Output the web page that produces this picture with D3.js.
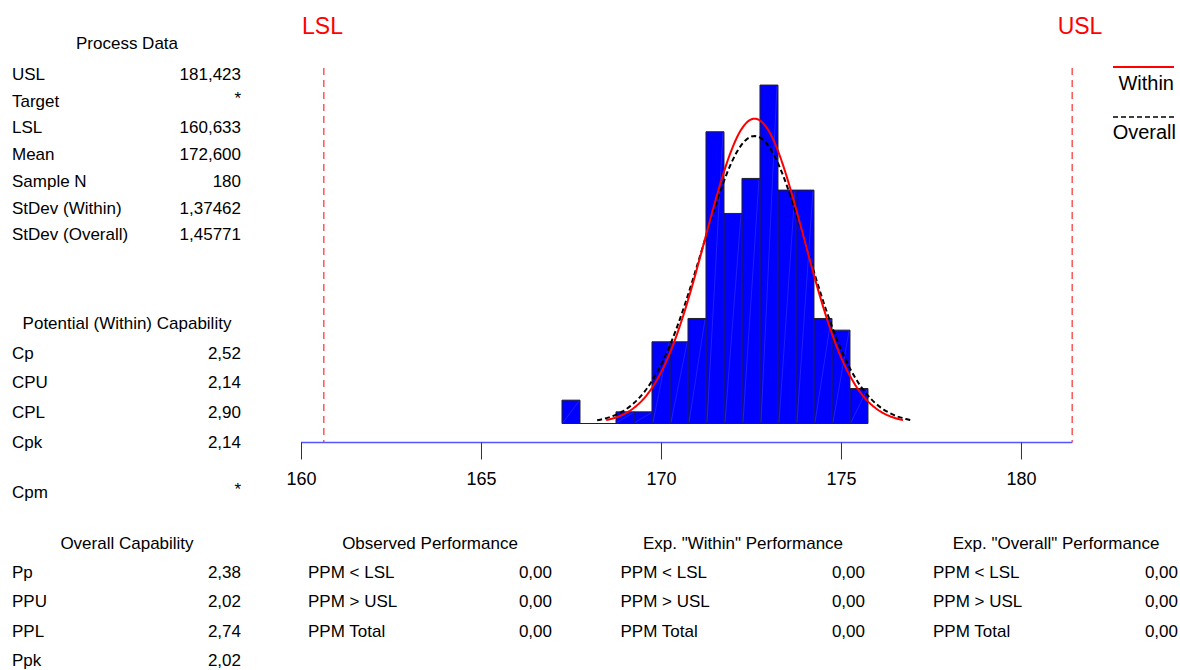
<!DOCTYPE html>
<html>
<head>
<meta charset="utf-8">
<script src="https://cdn.jsdelivr.net/npm/d3@7"></script>
<style>
  body { margin: 0; background: #fff; }
  svg { font-family: "Liberation Sans", Arial, sans-serif; }
</style>
</head>
<body>
<div id="chart"></div>
<script>
// Histogram data (bin midpoints, bin width 0.5)
const binMids = [167.5, 168.0, 168.5, 169.0, 169.5, 170.0, 170.5, 171.0, 171.5,
                 172.0, 172.5, 173.0, 173.5, 174.0, 174.5, 175.0, 175.5];
const binCounts = [2, 0, 0, 1, 1, 7, 7, 9, 25, 18, 21, 29, 20, 20, 9, 8, 3];
const binWidth = 0.5;

// Process statistics
const usl = 181.423;
const lsl = 160.633;
const mean = 172.6;
const sampleN = 180;
const sdWithin = 1.37462;
const sdOverall = 1.45771;

const xTicks = [160, 165, 170, 175, 180];

// Text tables
const processLabels = ["USL", "Target", "LSL", "Mean", "Sample N", "StDev (Within)", "StDev (Overall)"];
const processValues = ["181,423", "*", "160,633", "172,600", "180", "1,37462", "1,45771"];
const potentialLabels = ["Cp", "CPU", "CPL", "Cpk", "Cpm"];
const potentialValues = ["2,52", "2,14", "2,90", "2,14", "*"];
const overallLabels = ["Pp", "PPU", "PPL", "Ppk"];
const overallValues = ["2,38", "2,02", "2,74", "2,02"];
const perfLabels = ["PPM < LSL", "PPM > USL", "PPM Total"];
const perfTitles = ["Observed Performance", "Exp. \"Within\" Performance", "Exp. \"Overall\" Performance"];
const observedValues = ["0,00", "0,00", "0,00"];
const withinValues = ["0,00", "0,00", "0,00"];
const overallPerfValues = ["0,00", "0,00", "0,00"];

const W = 1180, H = 670;
const svg = d3.select("#chart").append("svg")
    .attr("width", W)
    .attr("height", H);

const x = d3.scaleLinear().domain([160, usl]).range([301, 1072.2]);
const y = d3.scaleLinear().domain([0, 30]).range([423.5, 73.4]);
const axisY = 442.5;

// spec limit lines
[lsl, usl].forEach(v => {
    svg.append("line")
        .attr("x1", x(v)).attr("x2", x(v))
        .attr("y1", 68).attr("y2", axisY)
        .attr("stroke", "#ff5555")
        .attr("stroke-width", 1.5)
        .attr("stroke-dasharray", "7,5");
});

svg.append("text").attr("x", 302).attr("y", 34)
    .attr("fill", "#ff0000").style("font-size", "23px").text("LSL");
svg.append("text").attr("x", 1080).attr("y", 34)
    .attr("text-anchor", "middle")
    .attr("fill", "#ff0000").style("font-size", "23px").text("USL");

// histogram bars (paths so that empty bins still show a base line)
const bars = svg.append("g");
binMids.forEach((m, i) => {
    const x0 = x(m - binWidth / 2), x1 = x(m + binWidth / 2);
    const y0 = y(0), y1 = y(binCounts[i]);
    bars.append("path")
        .attr("d", `M${x0},${y0}V${y1}H${x1}V${y0}Z`)
        .attr("fill", "#0000ff")
        .attr("stroke", "#222")
        .attr("stroke-width", 1);
    if (binCounts[i] > 0) {
        bars.append("line")
            .attr("x1", x0 + 1).attr("y1", y0 - 1)
            .attr("x2", x1 - 1).attr("y2", y1 + 1)
            .attr("stroke", "#8c8cff")
            .attr("stroke-width", 0.5)
            .attr("opacity", 0.45);
    }
});

// fitted normal curves
const normal = (v, s) => sampleN * binWidth * Math.exp(-0.5 * ((v - mean) / s) ** 2) / (s * Math.sqrt(2 * Math.PI));
const curvePoints = s => d3.range(0, 201).map(k => mean - 3 * s + k * 6 * s / 200);
const lineGen = s => d3.line().x(d => x(d)).y(d => y(normal(d, s)));

svg.append("path")
    .attr("d", lineGen(sdOverall)(curvePoints(sdOverall)))
    .attr("fill", "none")
    .attr("stroke", "#000")
    .attr("stroke-width", 2)
    .attr("stroke-dasharray", "5,3");

svg.append("path")
    .attr("d", lineGen(sdWithin)(curvePoints(sdWithin)))
    .attr("fill", "none")
    .attr("stroke", "#ff0000")
    .attr("stroke-width", 2);

// x axis
svg.append("line")
    .attr("x1", x(160)).attr("x2", x(usl))
    .attr("y1", axisY).attr("y2", axisY)
    .attr("stroke", "#5555ff")
    .attr("stroke-width", 1.5);

const xAxis = svg.append("g")
    .attr("transform", `translate(0,${axisY})`)
    .call(d3.axisBottom(x).tickValues(xTicks).tickSize(17).tickPadding(13).tickFormat(d3.format("d")));
xAxis.select(".domain").remove();
xAxis.selectAll(".tick line").attr("stroke", "#333");
xAxis.selectAll(".tick text")
    .style("font-size", "18px")
    .style("font-family", "\"Liberation Sans\", Arial, sans-serif")
    .attr("fill", "#000");

// legend
svg.append("line").attr("x1", 1113).attr("x2", 1174).attr("y1", 67).attr("y2", 67)
    .attr("stroke", "#ff0000").attr("stroke-width", 2);
svg.append("text").attr("x", 1174).attr("y", 90).attr("text-anchor", "end")
    .style("font-size", "20px").text("Within");
svg.append("line").attr("x1", 1113).attr("x2", 1174).attr("y1", 117).attr("y2", 117)
    .attr("stroke", "#000").attr("stroke-width", 1.5).attr("stroke-dasharray", "5,3");
svg.append("text").attr("x", 1176).attr("y", 139).attr("text-anchor", "end")
    .style("font-size", "20px").text("Overall");

// text tables
function table(title, labels, values, cx, lx, rx, titleY, rowYs) {
    const g = svg.append("g").style("font-size", "17px");
    g.append("text").attr("x", cx).attr("y", titleY + 6)
        .attr("text-anchor", "middle").text(title);
    labels.forEach((l, i) => {
        g.append("text").attr("x", lx).attr("y", rowYs[i] + 6).text(l);
        const v = values[i];
        g.append("text").attr("x", rx).attr("y", rowYs[i] + (v === "*" ? 3 : 6))
            .attr("text-anchor", "end").text(v);
    });
}

table("Process Data", processLabels, processValues, 127, 12, 241, 43,
      processLabels.map((d, i) => 74 + i * 26.7));
table("Potential (Within) Capability", potentialLabels, potentialValues, 127, 12, 241, 323,
      [353, 382, 412, 442, 492]);
table("Overall Capability", overallLabels, overallValues, 127, 12, 241, 543,
      overallLabels.map((d, i) => 572 + i * 29.3));

const perfValues = [observedValues, withinValues, overallPerfValues];
perfTitles.forEach((t, j) => {
    table(t, perfLabels, perfValues[j], 430 + j * 313, 308 + j * 312.5, 552 + j * 313, 543,
          perfLabels.map((d, i) => 572 + i * 29.3));
});
</script>
</body>
</html>
